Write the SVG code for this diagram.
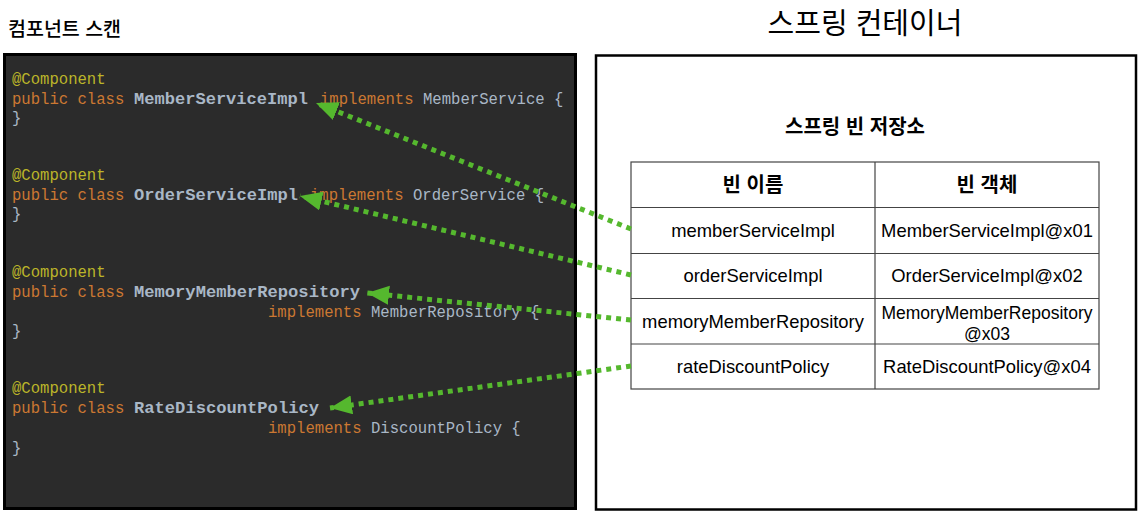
<svg xmlns="http://www.w3.org/2000/svg" width="1138" height="513" viewBox="0 0 1138 513">
<style>
.kr{font-family:"Liberation Sans","Noto Sans CJK KR",sans-serif;fill:#000}
.code{font-family:"Liberation Mono","DejaVu Sans Mono",monospace;font-size:15.6px}
.ann{fill:#bbb529}
.kw{fill:#cc7832}
.id{fill:#a9b7c6}
.nm{fill:#a9b7c6;font-weight:bold}
.cell{font-family:"Liberation Sans",Arial,sans-serif;font-size:18.4px;fill:#000;text-anchor:middle}
.small{font-size:17.5px}
.hdr{font-family:"Liberation Sans","Noto Sans CJK KR",sans-serif;font-size:20px;font-weight:bold;fill:#000;text-anchor:middle}
.conn{stroke:#55b82e;stroke-width:5;stroke-dasharray:5 5;fill:none;marker-end:url(#ah)}
.grid{stroke:#444;stroke-width:1.2;fill:none}
</style>
<defs>
<marker id="ah" markerUnits="userSpaceOnUse" markerWidth="24" markerHeight="20" refX="22" refY="9.5" orient="auto">
<path d="M0,0 L22,9.5 L0,19 z" fill="#55b82e"/>
</marker>
</defs>
<rect width="1138" height="513" fill="#fff"/>

<g id="title-scan"><text class="kr" x="8" y="36" font-size="19.5" font-weight="500">컴포넌트 스캔</text></g>
<g id="title-container"><text class="kr" x="865" y="34" font-size="29" text-anchor="middle">스프링 컨테이너</text></g>

<g id="code-panel">
<rect x="4.5" y="54.5" width="571" height="454" fill="#2b2b2b" stroke="#000" stroke-width="3"/>
<g class="code">
<text class="ann" x="12" y="84">@Component</text>
<text class="kw" x="12" y="104">public class</text>
<text class="nm" x="134" y="104" textLength="174" lengthAdjust="spacingAndGlyphs">MemberServiceImpl</text>
<text class="kw" x="320" y="104">implements</text>
<text class="id" x="423" y="104">MemberService {</text>
<text class="id" x="12" y="123">}</text>

<text class="ann" x="12" y="180">@Component</text>
<text class="kw" x="12" y="200">public class</text>
<text class="nm" x="134" y="200" textLength="164" lengthAdjust="spacingAndGlyphs">OrderServiceImpl</text>
<text class="kw" x="310" y="200">implements</text>
<text class="id" x="413" y="200">OrderService {</text>
<text class="id" x="12" y="219">}</text>

<text class="ann" x="12" y="277">@Component</text>
<text class="kw" x="12" y="297">public class</text>
<text class="nm" x="134" y="297" textLength="226" lengthAdjust="spacingAndGlyphs">MemoryMemberRepository</text>
<text class="kw" x="268" y="317">implements</text>
<text class="id" x="371" y="317">MemberRepository {</text>
<text class="id" x="12" y="336">}</text>

<text class="ann" x="12" y="393">@Component</text>
<text class="kw" x="12" y="413">public class</text>
<text class="nm" x="134" y="413" textLength="185" lengthAdjust="spacingAndGlyphs">RateDiscountPolicy</text>
<text class="kw" x="268" y="433">implements</text>
<text class="id" x="371" y="433">DiscountPolicy {</text>
<text class="id" x="12" y="453">}</text>
</g>
</g>

<g id="spring-container">
<rect x="596" y="55.5" width="540" height="454" fill="#fff" stroke="#000" stroke-width="2.5"/>
<text class="kr" x="855" y="134" font-size="20" font-weight="bold" text-anchor="middle">스프링 빈 저장소</text>
</g>

<g id="bean-table">
<rect x="631" y="162" width="468" height="227" fill="#fff" class="grid"/>
<line class="grid" x1="875" y1="162" x2="875" y2="389"/>
<line class="grid" x1="631" y1="207.5" x2="1099" y2="207.5"/>
<line class="grid" x1="631" y1="253.5" x2="1099" y2="253.5"/>
<line class="grid" x1="631" y1="298.5" x2="1099" y2="298.5"/>
<line class="grid" x1="631" y1="344" x2="1099" y2="344"/>
<text class="hdr" x="753" y="192">빈 이름</text>
<text class="hdr" x="987" y="192">빈 객체</text>
<text class="cell" x="753" y="237">memberServiceImpl</text>
<text class="cell" x="987" y="237">MemberServiceImpl@x01</text>
<text class="cell" x="753" y="282">orderServiceImpl</text>
<text class="cell" x="987" y="282">OrderServiceImpl@x02</text>
<text class="cell" x="753" y="328">memoryMemberRepository</text>
<text class="cell small" x="987" y="319">MemoryMemberRepository</text>
<text class="cell small" x="987" y="340">@x03</text>
<text class="cell" x="753" y="373">rateDiscountPolicy</text>
<text class="cell" x="987" y="373">RateDiscountPolicy@x04</text>
</g>

<g id="connectors">
<line class="conn" x1="631" y1="229" x2="316" y2="103"/>
<line class="conn" x1="631" y1="275" x2="300" y2="196"/>
<line class="conn" x1="631" y1="320" x2="367" y2="293"/>
<line class="conn" x1="631" y1="366" x2="330" y2="408"/>
</g>
</svg>
